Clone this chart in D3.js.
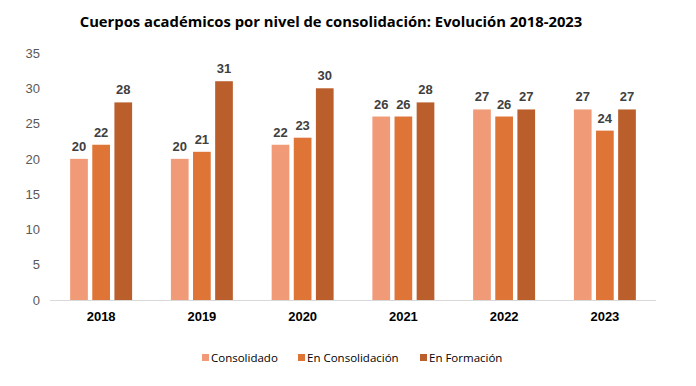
<!DOCTYPE html>
<html>
<head>
<meta charset="utf-8">
<script src="https://cdn.jsdelivr.net/npm/d3@7"></script>
<style>
  body { margin: 0; background: #fff; }
</style>
</head>
<body>
<div id="chart"></div>
<script>
// Data
const years = ["2018", "2019", "2020", "2021", "2022", "2023"];
const seriesNames = ["Consolidado", "En Consolidación", "En Formación"];
const consolidado = [20, 20, 22, 26, 27, 27];
const enConsolidacion = [22, 21, 23, 26, 26, 24];
const enFormacion = [28, 31, 30, 28, 27, 27];
const yTicks = [0, 5, 10, 15, 20, 25, 30, 35];
const colors = ["#F19A77", "#DF7437", "#BA5F2C"];

const width = 696, height = 386;
const margin = { top: 53, right: 40, bottom: 86, left: 50 };

const svg = d3.select("#chart").append("svg")
  .attr("width", width)
  .attr("height", height);

// title
svg.append("text")
  .attr("x", 331)
  .attr("y", 27)
  .attr("text-anchor", "middle")
  .style("font-family", "'Open Sans', sans-serif")
  .style("font-weight", "bold")
  .style("font-size", "14.8px")
  .attr("fill", "#000")
  .text("Cuerpos académicos por nivel de consolidación: Evolución 2018-2023");

const x0 = d3.scaleBand()
  .domain(years)
  .range([margin.left, width - margin.right])
  .paddingInner(0.385)
  .paddingOuter(0.2);

const x1 = d3.scaleBand()
  .domain(seriesNames)
  .range([0, x0.bandwidth()])
  .paddingInner(0.2)
  .paddingOuter(0);

const y = d3.scaleLinear()
  .domain([0, 35])
  .range([height - margin.bottom, margin.top]);

// y axis labels (no line)
const yAxis = svg.append("g")
  .attr("transform", `translate(${margin.left - 10},0)`)
  .call(d3.axisLeft(y).tickValues(yTicks).tickSize(0).tickPadding(0));
yAxis.select(".domain").remove();
yAxis.selectAll("text")
  .style("font-family", "'Liberation Sans', Arial, sans-serif")
  .style("font-size", "13px")
  .attr("fill", "#595959");

// baseline
svg.append("line")
  .attr("x1", margin.left)
  .attr("x2", width - margin.right)
  .attr("y1", y(0) + 0.5)
  .attr("y2", y(0) + 0.5)
  .attr("stroke", "#d9d9d9")
  .attr("stroke-width", 1);

const rows = years.map((yr, i) => ({
  year: yr,
  values: [consolidado[i], enConsolidacion[i], enFormacion[i]]
}));

const groups = svg.selectAll("g.year")
  .data(rows)
  .enter().append("g")
  .attr("class", "year")
  .attr("transform", d => `translate(${x0(d.year)},0)`);

groups.selectAll("rect")
  .data(d => d.values.map((v, j) => ({ name: seriesNames[j], value: v, j })))
  .enter().append("rect")
  .attr("x", d => x1(d.name))
  .attr("y", d => y(d.value))
  .attr("width", x1.bandwidth())
  .attr("height", d => y(0) - y(d.value))
  .attr("fill", d => colors[d.j]);

groups.selectAll("text.val")
  .data(d => d.values.map((v, j) => ({ name: seriesNames[j], value: v })))
  .enter().append("text")
  .attr("class", "val")
  .attr("x", d => x1(d.name) + x1.bandwidth() / 2)
  .attr("y", d => y(d.value) - 8)
  .attr("text-anchor", "middle")
  .style("font-family", "'Liberation Sans', Arial, sans-serif")
  .style("font-weight", "bold")
  .style("font-size", "13px")
  .attr("fill", "#404040")
  .text(d => d.value);

// x axis year labels
const xAxis = svg.append("g")
  .attr("transform", `translate(0,${y(0)})`)
  .call(d3.axisBottom(x0).tickSize(0).tickPadding(12));
xAxis.select(".domain").remove();
xAxis.selectAll("text")
  .style("font-family", "'Liberation Sans', Arial, sans-serif")
  .style("font-weight", "bold")
  .style("font-size", "13px")
  .attr("fill", "#000");

// legend
const legendX = [202, 298, 420];
const legend = svg.append("g");
seriesNames.forEach((name, i) => {
  legend.append("rect")
    .attr("x", legendX[i])
    .attr("y", 354)
    .attr("width", 7)
    .attr("height", 7)
    .attr("fill", colors[i]);
  legend.append("text")
    .attr("x", legendX[i] + 9)
    .attr("y", 362)
    .style("font-family", "'Open Sans', sans-serif")
    .style("font-size", "11.5px")
    .attr("fill", "#000")
    .text(name);
});
</script>
</body>
</html>
